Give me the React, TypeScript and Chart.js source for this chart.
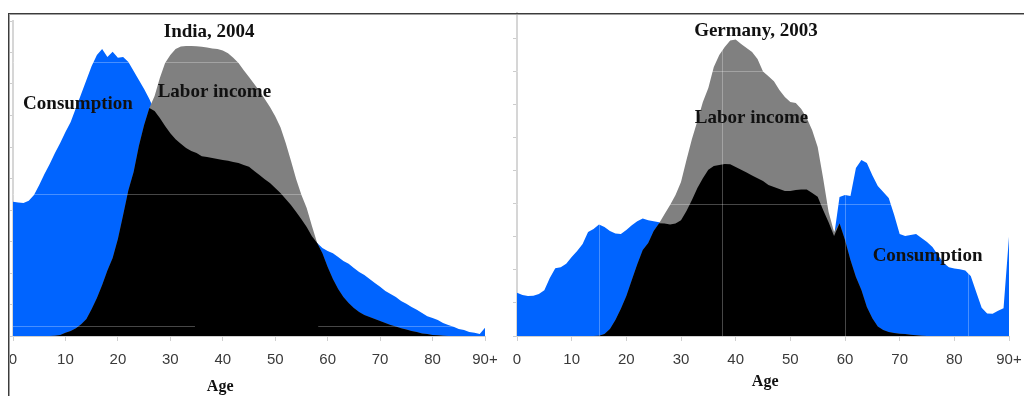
import { useEffect, useRef } from "react";
import { Chart, registerables } from "chart.js";

Chart.register(...registerables);

// Single years of age, 0 .. 90 (the last bin is 90 and older)
const ages = Array.from({ length: 91 }, (_, i) => i);
const ageTickLabels = ["0", "10", "20", "30", "40", "50", "60", "70", "80", "90+"];

// India, 2004 — per-capita profiles by age
const indiaConsumption = [
  4.26, 4.24, 4.22, 4.29, 4.48, 4.79, 5.14, 5.46, 5.81, 6.13,
  6.48, 6.79, 7.24, 7.68, 8.13, 8.57, 8.92, 9.11, 8.86, 9.02,
  8.83, 8.86, 8.70, 8.41, 8.13, 7.84, 7.52, 7.14, 6.92, 6.67,
  6.44, 6.25, 6.10, 5.97, 5.87, 5.81, 5.71, 5.68, 5.65, 5.62,
  5.59, 5.56, 5.52, 5.49, 5.43, 5.37, 5.24, 5.11, 4.98, 4.86,
  4.70, 4.54, 4.35, 4.16, 3.94, 3.71, 3.46, 3.17, 2.95, 2.79,
  2.70, 2.63, 2.51, 2.38, 2.29, 2.16, 2.03, 1.94, 1.81, 1.68,
  1.56, 1.43, 1.33, 1.24, 1.11, 1.02, 0.92, 0.83, 0.73, 0.63,
  0.57, 0.51, 0.41, 0.35, 0.29, 0.22, 0.19, 0.13, 0.10, 0.06,
  0.26,
];
const indiaLaborIncome = [
  0, 0, 0, 0, 0, 0, 0, 0, 0.01, 0.03,
  0.10, 0.16, 0.25, 0.37, 0.54, 0.86, 1.21, 1.62, 2.08, 2.48,
  3.08, 3.84, 4.63, 5.21, 6.03, 6.70, 7.24, 7.62, 8.19, 8.67,
  8.92, 9.11, 9.19, 9.21, 9.21, 9.20, 9.18, 9.16, 9.13, 9.11,
  9.06, 8.98, 8.83, 8.67, 8.44, 8.22, 8.00, 7.78, 7.52, 7.27,
  6.98, 6.63, 6.13, 5.56, 4.98, 4.48, 4.06, 3.49, 2.95, 2.63,
  2.19, 1.81, 1.49, 1.24, 1.05, 0.89, 0.76, 0.67, 0.60, 0.54,
  0.48, 0.41, 0.35, 0.30, 0.25, 0.21, 0.16, 0.13, 0.08, 0.06,
  0.03, 0.02, 0.01, 0, 0, 0, 0, 0, 0, 0,
  0,
];

// Germany, 2003 — per-capita profiles by age
const germanyConsumption = [
  1.31, 1.24, 1.21, 1.22, 1.27, 1.38, 1.75, 2.05, 2.08, 2.18,
  2.39, 2.57, 2.78, 3.14, 3.23, 3.37, 3.29, 3.17, 3.10, 3.08,
  3.20, 3.35, 3.47, 3.55, 3.50, 3.47, 3.44, 3.40, 3.37, 3.40,
  3.50, 3.78, 4.11, 4.47, 4.77, 5.02, 5.14, 5.17, 5.20, 5.19,
  5.11, 5.02, 4.94, 4.85, 4.77, 4.68, 4.56, 4.50, 4.44, 4.38,
  4.38, 4.41, 4.43, 4.43, 4.32, 4.21, 3.81, 3.44, 3.02, 4.20,
  4.26, 4.23, 5.08, 5.32, 5.23, 4.86, 4.53, 4.35, 4.17, 3.66,
  3.08, 3.02, 3.05, 3.08, 2.96, 2.84, 2.69, 2.45, 2.21, 2.08,
  2.04, 2.02, 1.98, 1.81, 1.33, 0.85, 0.68, 0.67, 0.76, 0.84,
  3.00,
];
const germanyLaborIncome = [
  0, 0, 0, 0, 0, 0, 0, 0, 0, 0,
  0, 0, 0, 0, 0, 0.01, 0.06, 0.21, 0.48, 0.82,
  1.21, 1.69, 2.17, 2.60, 2.81, 3.17, 3.41, 3.69, 3.96, 4.26,
  4.65, 5.32, 5.95, 6.50, 7.07, 7.49, 8.13, 8.49, 8.73, 8.93,
  8.96, 8.82, 8.70, 8.58, 8.37, 7.99, 7.85, 7.70, 7.43, 7.22,
  7.07, 7.04, 6.86, 6.59, 6.22, 5.71, 4.77, 3.75, 3.14, 3.41,
  2.90, 2.30, 1.78, 1.39, 0.88, 0.54, 0.29, 0.18, 0.12, 0.09,
  0.07, 0.06, 0.04, 0.02, 0.01, 0, 0, 0, 0, 0,
  0, 0, 0, 0, 0, 0, 0, 0, 0, 0,
  0,
];

const BLUE = "rgb(0, 100, 255)";
const GRAY = "#808080";
const BLACK = "#000000";
const SERIF = "'Liberation Serif', 'Times New Roman', serif";
const SANS = "'Liberation Sans', Arial, sans-serif";

// Faint light rules laid over the filled areas
const overlayGrid = {
  id: "overlayGrid",
  afterDatasetsDraw(chart: any, _args: any, opts: any) {
    const { ctx, chartArea, scales } = chart;
    ctx.save();
    ctx.strokeStyle = opts.color;
    ctx.lineWidth = 1;
    for (const h of opts.horizontal || []) {
      const y = Math.round(scales.y.getPixelForValue(h.value)) + 0.5;
      const x0 = scales.x.getPixelForValue(h.from ?? scales.x.min);
      const x1 = scales.x.getPixelForValue(h.to ?? scales.x.max);
      ctx.beginPath();
      ctx.moveTo(x0, y);
      ctx.lineTo(x1, y);
      ctx.stroke();
    }
    for (const v of opts.vertical || []) {
      const x = Math.round(scales.x.getPixelForValue(v.value)) + 0.5;
      ctx.beginPath();
      ctx.moveTo(x, chartArea.top);
      ctx.lineTo(x, chartArea.bottom);
      ctx.stroke();
    }
    ctx.restore();
  },
};

// Panel title, series names and axis title, placed in data coordinates
const panelText = {
  id: "panelText",
  afterDraw(chart: any, _args: any, opts: any) {
    const { ctx, scales } = chart;
    ctx.save();
    ctx.fillStyle = "#111";
    ctx.textAlign = "center";
    ctx.textBaseline = "middle";
    for (const item of opts.items || []) {
      ctx.font = item.font;
      ctx.fillText(
        item.text,
        scales.x.getPixelForValue(item.x),
        scales.y.getPixelForValue(item.y)
      );
    }
    ctx.restore();
  },
};

type PanelProps = {
  consumption: number[];
  laborIncome: number[];
  yMax: number;
  padding: { left: number; top: number; right: number; bottom: number };
  overlay: any;
  texts: any[];
  left: number;
};

const toPoints = (values: number[]) => ages.map((a, i) => ({ x: a, y: values[i] }));

function AgeProfilePanel(props: PanelProps) {
  const ref = useRef<HTMLCanvasElement | null>(null);

  useEffect(() => {
    if (!ref.current) return;
    // Area where both profiles overlap (the lower of the two at each age)
    const overlap = props.consumption.map((c, i) => Math.min(c, props.laborIncome[i]));
    const areaStyle = {
      fill: "origin",
      pointRadius: 0,
      borderWidth: 1,
      borderColor: "rgba(0,0,0,0)",
      tension: 0,
    };
    const chart = new Chart(ref.current, {
      type: "line",
      data: {
        datasets: [
          { label: "Overlap", data: toPoints(overlap), backgroundColor: BLACK, order: 0, ...areaStyle },
          { label: "Labor income", data: toPoints(props.laborIncome), backgroundColor: GRAY, order: 1, ...areaStyle },
          { label: "Consumption", data: toPoints(props.consumption), backgroundColor: BLUE, order: 2, ...areaStyle },
        ] as any,
      },
      options: {
        responsive: false,
        animation: false,
        devicePixelRatio: 1,
        layout: { padding: props.padding },
        plugins: {
          legend: { display: false },
          tooltip: { enabled: false },
          overlayGrid: props.overlay,
          panelText: { items: props.texts },
        } as any,
        scales: {
          x: {
            type: "linear",
            min: 0,
            max: 90,
            afterFit: (s: any) => {
              s.height = 60;
              // let the layout padding alone decide the side margins
              s.paddingLeft = 0;
              s.paddingRight = 0;
            },
            border: { color: "#cfcfcf", width: 1 },
            grid: { drawOnChartArea: false, tickLength: 5, color: "#cfcfcf" },
            ticks: {
              stepSize: 10,
              autoSkip: false,
              maxRotation: 0,
              padding: 10,
              color: "#3a3a3a",
              font: { family: SANS, size: 15 },
              callback: (v: any) => ageTickLabels[Math.round(Number(v) / 10)],
            },
          },
          y: {
            min: 0,
            max: props.yMax,
            afterFit: (s: any) => {
              s.width = 5;
            },
            afterBuildTicks: (s: any) => {
              s.ticks = s.ticks.filter((t: any) => Number.isInteger(t.value));
            },
            border: { color: "#d6d6d6", width: 2 },
            grid: { drawOnChartArea: false, tickLength: 4, color: "#cccccc" },
            ticks: { display: false, stepSize: 1 },
          },
        },
      } as any,
      plugins: [overlayGrid, panelText],
    });
    return () => chart.destroy();
  }, []);

  return (
    <canvas
      ref={ref}
      width={512}
      height={396}
      style={{ position: "absolute", left: props.left, top: 0, width: 512, height: 396 }}
    />
  );
}

const titleFont = `bold 19px ${SERIF}`;
const axisTitleFont = `bold 16px ${SERIF}`;
const ruleColor = "rgba(255,255,255,0.28)";

export default function App() {
  return (
    <div style={{ position: "absolute", left: 0, top: 0, width: 1024, height: 396, background: "#fff", overflow: "hidden" }}>
      <AgeProfilePanel
        left={0}
        consumption={indiaConsumption}
        laborIncome={indiaLaborIncome}
        yMax={10}
        padding={{ left: 8, top: 21, right: 27, bottom: 0 }}
        overlay={{
          color: ruleColor,
          horizontal: [
            { value: 0.32, from: 0, to: 34.7 },
            { value: 0.32, from: 58.2, to: 90 },
            { value: 4.5 },
            { value: 8.7 },
          ],
        }}
        texts={[
          { text: "India, 2004", x: 37.4, y: 9.65, font: titleFont },
          { text: "Consumption", x: 12.4, y: 7.37, font: titleFont },
          { text: "Labor income", x: 38.4, y: 7.75, font: titleFont },
          { text: "Age", x: 39.5, y: -1.61, font: axisTitleFont },
        ]}
      />
      <AgeProfilePanel
        left={512}
        consumption={germanyConsumption}
        laborIncome={germanyLaborIncome}
        yMax={9.76}
        padding={{ left: 0, top: 13, right: 15, bottom: 0 }}
        overlay={{
          color: ruleColor,
          horizontal: [{ value: 4 }, { value: 8 }],
          vertical: [{ value: 15 }, { value: 37.5 }, { value: 60 }, { value: 82.5 }],
        }}
        texts={[
          { text: "Germany, 2003", x: 43.7, y: 9.21, font: titleFont },
          { text: "Labor income", x: 42.9, y: 6.59, font: titleFont },
          { text: "Consumption", x: 75.1, y: 2.42, font: titleFont },
          { text: "Age", x: 45.4, y: -1.38, font: axisTitleFont },
        ]}
      />
      {/* frame: top and left rules */}
      <div style={{ position: "absolute", left: 8, top: 13, width: 1016, height: 1, background: "#3c3c3c" }} />
      <div style={{ position: "absolute", left: 9, top: 14, width: 1015, height: 1, background: "#a0a0a0" }} />
      <div style={{ position: "absolute", left: 8, top: 13, width: 1, height: 383, background: "#3c3c3c" }} />
      <div style={{ position: "absolute", left: 9, top: 14, width: 1, height: 382, background: "#a0a0a0" }} />
    </div>
  );
}
